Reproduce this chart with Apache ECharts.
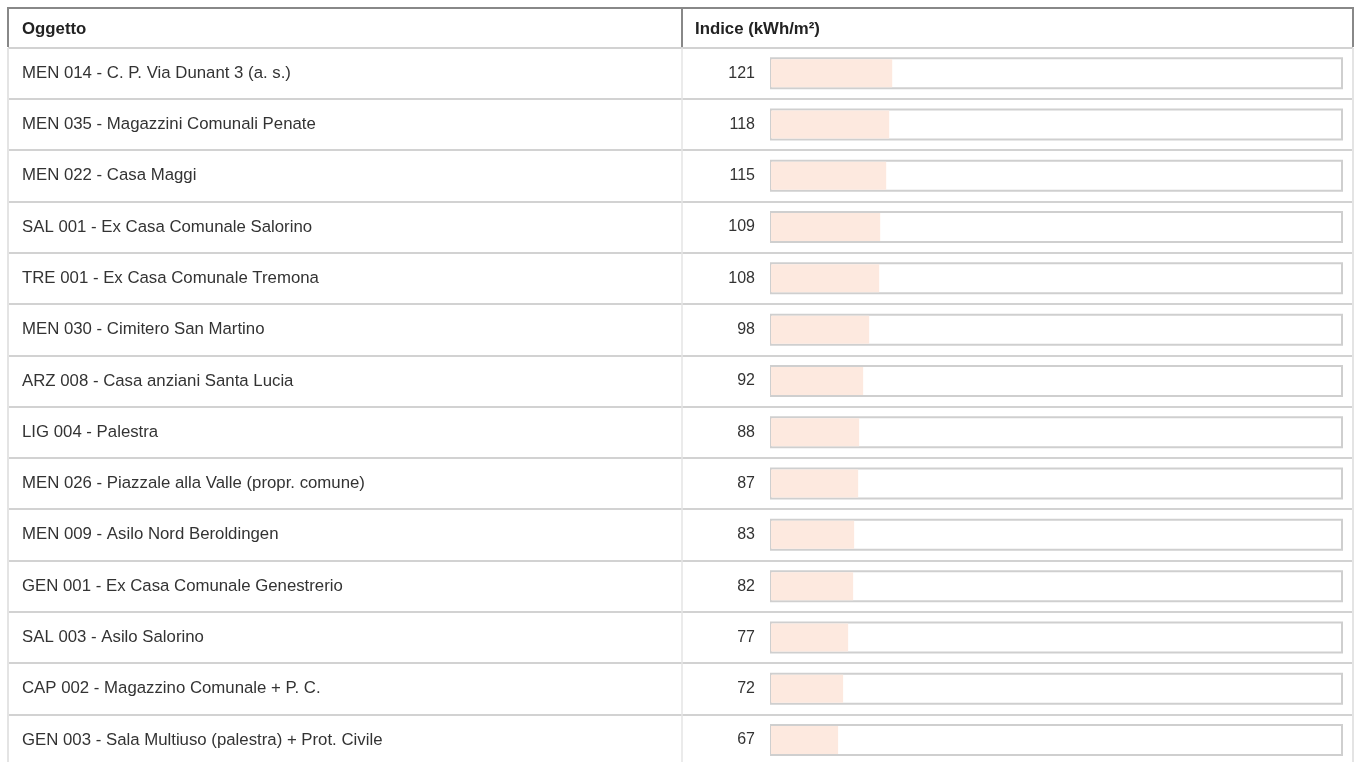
<!DOCTYPE html>
<html>
<head>
<meta charset="utf-8">
<script src="https://cdn.jsdelivr.net/npm/echarts@6/dist/echarts.min.js"></script>
<style>
html,body{margin:0;padding:0;background:#fff;}
#c{width:1358px;height:762px;}
</style>
</head>
<body>
<div id="c"></div>
<script>
const names = [
  'MEN 014 - C. P. Via Dunant 3 (a. s.)',
  'MEN 035 - Magazzini Comunali Penate',
  'MEN 022 - Casa Maggi',
  'SAL 001 - Ex Casa Comunale Salorino',
  'TRE 001 - Ex Casa Comunale Tremona',
  'MEN 030 - Cimitero San Martino',
  'ARZ 008 - Casa anziani Santa Lucia',
  'LIG 004 - Palestra',
  'MEN 026 - Piazzale alla Valle (propr. comune)',
  'MEN 009 - Asilo Nord Beroldingen',
  'GEN 001 - Ex Casa Comunale Genestrerio',
  'SAL 003 - Asilo Salorino',
  'CAP 002 - Magazzino Comunale + P. C.',
  'GEN 003 - Sala Multiuso (palestra) + Prot. Civile'
];
const values = [121, 118, 115, 109, 108, 98, 92, 88, 87, 83, 82, 77, 72, 67];
const headers = ['Oggetto', 'Indice (kWh/m²)'];
const scaleMax = 570;

const FONT = '"Liberation Sans", Arial, Helvetica, sans-serif';
const chart = echarts.init(document.getElementById('c'));

const hidden = {axisLine:{show:false}, axisTick:{show:false}, splitLine:{show:false}};

chart.setOption({
  backgroundColor: '#fff',
  animation: false,
  grid: [
    {left: 771, top: 47.5, width: 571, height: 718.2, containLabel: false, outerBoundsMode: 'none'},
    {left: 8, top: 47.5, width: 1345, height: 718.2, containLabel: false, outerBoundsMode: 'none'}
  ],
  xAxis: [
    {gridIndex: 0, type: 'value', min: 0, max: scaleMax, show: false},
    {gridIndex: 1, type: 'value', min: 0, max: 1, show: false}
  ],
  yAxis: [
    Object.assign({gridIndex: 0, type: 'category', position: 'left', data: names, inverse: true,
      axisLabel: {formatter: (v, i) => String(values[i]), margin: 16, color: '#333', fontSize: 16, fontFamily: FONT, interval: 0, padding: [3,0,0,0]}}, hidden),
    Object.assign({gridIndex: 0, type: 'category', position: 'left', offset: 0, data: names, inverse: true,
      axisLabel: {align: 'left', margin: 749, color: '#333', fontSize: 16.8, fontFamily: FONT, interval: 0, hideOverlap: false}}, hidden),
    {gridIndex: 1, type: 'category', position: 'left', data: names, inverse: true,
      axisLine: {show: false}, axisTick: {show: false}, axisLabel: {show: false},
      splitLine: {show: true, interval: 0, lineStyle: {color: '#d2d2d2', width: 2}}}
  ],
  series: [
    {type: 'bar', xAxisIndex: 0, yAxisIndex: 1, data: values, barWidth: 30, silent: true, z: 1,
      itemStyle: {color: 'rgba(0,0,0,0)'},
      showBackground: true,
      backgroundStyle: {color: '#fff', borderColor: '#cfcfcf', borderWidth: 2}},
    {type: 'bar', xAxisIndex: 0, yAxisIndex: 0, data: values, barWidth: 28, z: 3,
      itemStyle: {color: '#fde9df'}}
  ],
  graphic: [
    {type: 'line', shape: {x1: 8, y1: 48, x2: 8, y2: 762}, style: {stroke: '#e4e4e4', lineWidth: 2}, z: 5},
    {type: 'line', shape: {x1: 682, y1: 48, x2: 682, y2: 762}, style: {stroke: '#e4e4e4', lineWidth: 1.5}, z: 5},
    {type: 'line', shape: {x1: 1353, y1: 48, x2: 1353, y2: 762}, style: {stroke: '#e4e4e4', lineWidth: 2}, z: 5},
    {type: 'line', shape: {x1: 7, y1: 8, x2: 1354, y2: 8}, style: {stroke: '#888', lineWidth: 2}, z: 6},
    {type: 'line', shape: {x1: 8, y1: 7, x2: 8, y2: 47}, style: {stroke: '#888', lineWidth: 2}, z: 6},
    {type: 'line', shape: {x1: 682, y1: 7, x2: 682, y2: 47}, style: {stroke: '#888', lineWidth: 2}, z: 6},
    {type: 'line', shape: {x1: 1353, y1: 7, x2: 1353, y2: 47}, style: {stroke: '#888', lineWidth: 2}, z: 6},
    {type: 'text', x: 22, y: 29, style: {text: headers[0], fill: '#222', font: 'bold 16.8px ' + FONT, textVerticalAlign: 'middle'}, z: 6},
    {type: 'text', x: 695, y: 29, style: {text: headers[1], fill: '#222', font: 'bold 16.8px ' + FONT, textVerticalAlign: 'middle'}, z: 6}
  ]
});
</script>
</body>
</html>
